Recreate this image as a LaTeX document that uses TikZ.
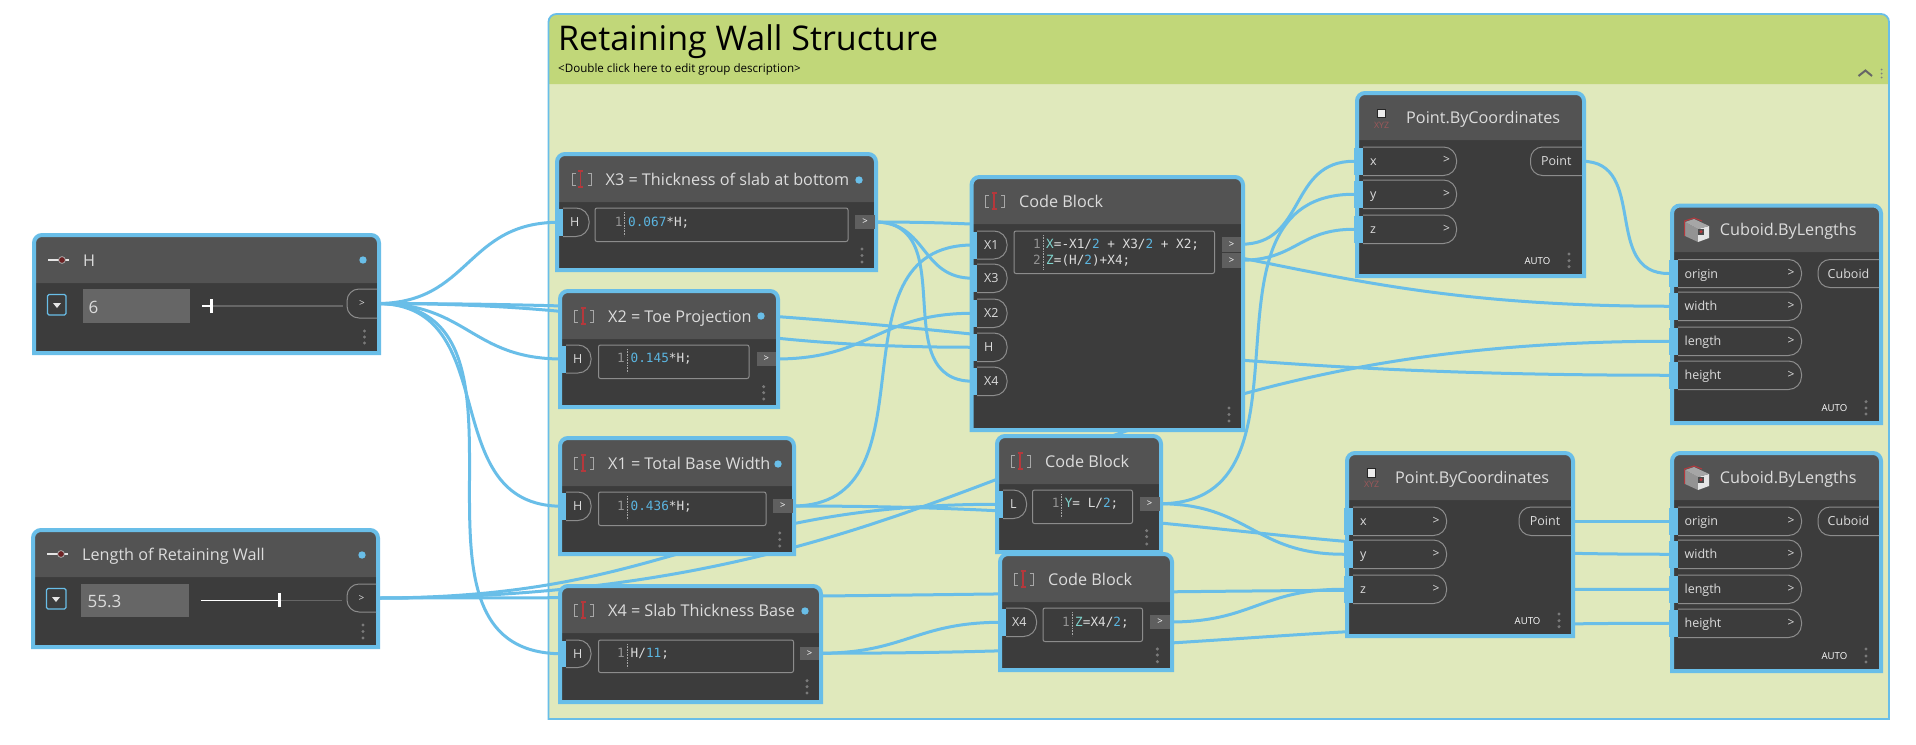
\documentclass[tikz,border=0pt]{standalone}
\usepackage{fontspec}
\setmainfont{Open Sans}
\setmonofont{DejaVu Sans Mono}
\usetikzlibrary{calc}
\pgfdeclarelayer{grouplayer}
\pgfdeclarelayer{wirelayer}
\pgfsetlayers{grouplayer,wirelayer,main}
\definecolor{wireblue}{HTML}{69BEE8}
\definecolor{bodydark}{HTML}{3C3C3C}
\definecolor{headdark}{HTML}{535353}
\definecolor{groupbody}{HTML}{E0E9BC}
\definecolor{grouphead}{HTML}{C1D779}
\definecolor{txtlight}{HTML}{DCDCDC}
\definecolor{pillline}{HTML}{8C8C8C}
\definecolor{outgray}{HTML}{5F5F5F}
\definecolor{boxgray}{HTML}{666666}
\definecolor{dotgray}{HTML}{7A7A7A}
\definecolor{cnum}{HTML}{5BB5E0}
\definecolor{cvar}{HTML}{7FD3CC}
\definecolor{redmark}{HTML}{B5383C}
\definecolor{bracketgray}{HTML}{A8A8A8}
\tikzset{
  wire/.style={draw=wireblue,line width=3pt,line cap=round},
  shell/.style={inner sep=0pt,outer sep=0pt,draw=none,fill=none},
  titletext/.style={inner sep=0pt,anchor=mid west,text=txtlight,yshift=-4pt,font=\fontsize{16.2}{19}\selectfont},
  portlabel/.style={inner sep=0pt,text=txtlight,yshift=-2pt,font=\fontsize{12.5}{15}\selectfont},
  arrowlabel/.style={inner sep=0pt,text=txtlight,font=\fontsize{12}{14}\selectfont},
  pill/.style={draw=pillline,line width=1pt},
  bar/.style={fill=wireblue,draw=none,inner sep=0pt,outer sep=0pt},
  outrect/.style={fill=outgray,draw=none,inner sep=0pt,outer sep=0pt,text=white,font=\fontsize{9.5}{11}\selectfont},
  outport/.style={inner sep=0pt,outer sep=0pt,text=txtlight},
  codebox/.style={draw=pillline,line width=1pt,rounded corners=2pt,inner sep=0pt,outer sep=0pt},
  codetext/.style={inner sep=0pt,anchor=mid west,text=txtlight,font=\ttfamily\fontsize{12.7}{15}\selectfont},
  linenum/.style={inner sep=0pt,anchor=mid,text=gray!85,font=\ttfamily\fontsize{12.7}{15}\selectfont},
  autotext/.style={inner sep=0pt,anchor=mid,text=white,font=\fontsize{9.6}{11}\selectfont},
  valuebox/.style={fill=boxgray,draw=none,inner sep=0pt,outer sep=0pt,text=txtlight},
  valuetext/.style={inner sep=0pt,anchor=mid west,text=txtlight,yshift=-5pt,font=\fontsize{17}{20}\selectfont},
}
% name x0 y0 x1 y1 yheader
\newcommand\dnode[6]{%
  \fill[bodydark,rounded corners=8pt] (#2+2,#5-2) -- (#2+2,#3+2) -- (#4-2,#3+2) [sharp corners] -- (#4-2,#5-2) -- cycle;
  \fill[headdark,rounded corners=8pt] (#2+2,#6) -- (#2+2,#3+2) -- (#4-2,#3+2) [sharp corners] -- (#4-2,#6) -- cycle;
  \draw[wireblue,line width=4pt,rounded corners=8pt] (#2+2,#5-2) -- (#2+2,#3+2) -- (#4-2,#3+2) [sharp corners] -- (#4-2,#5-2) -- cycle;
  \node[shell,minimum width={#4-#2},minimum height={#5-#3}] (#1) at ({(#2+#4)/2},{(#3+#5)/2}) {};
}
% three grip dots: x y1 y2 y3
\newcommand\grip[4]{\fill[dotgray] (#1,#2) circle (1.7pt) (#1,#3) circle (1.7pt) (#1,#4) circle (1.7pt);}
% status dot
\newcommand\stat[2]{\fill[wireblue] (#1,#2) circle (3.7pt);}
% code icon: x of bracket start, y centre
\newcommand\cbicon[2]{%
  \draw[bracketgray,line width=.9pt] (#1+3.5,#2-6) -- (#1,#2-6) -- (#1,#2+6) -- (#1+3.5,#2+6);
  \draw[bracketgray,line width=.9pt] (#1+15.5,#2-6) -- (#1+19,#2-6) -- (#1+19,#2+6) -- (#1+15.5,#2+6);
  \draw[redmark,line width=1.2pt] (#1+6,#2-8) -- (#1+11,#2-8) (#1+8.5,#2-8) -- (#1+8.5,#2+8) (#1+6,#2+8) -- (#1+11,#2+8);
}
% slider icon: x y (centre of the knob)
\newcommand\slicon[2]{%
  \draw[white!90!black,line width=1.6pt] (#1-14,#2) -- (#1+7,#2);
  \fill[redmark!60!black] (#1,#2) circle (3.2pt);
  \draw[white!70!black,line width=.7pt] (#1,#2) circle (3.4pt);
}
% point icon: x y of the square
\newcommand\pticon[3]{%
  \fill[white!92!black] (#1-3.7,#2-4.2) rectangle (#1+3.7,#2+4.2);
  \draw[black!85,line width=.8pt] (#1-3.7,#2-4.2) rectangle (#1+3.7,#2+4.2);
  \node[inner sep=0pt,anchor=mid,text=redmark!55!gray,font=\fontsize{8.8}{10}\selectfont] (#3) at (#1,#2+12) {XYZ};
}
% cube icon: centre
\newcommand\cubeicon[2]{%
  \fill[gray!85] (#1-12,#2-9) -- (#1+1,#2-2) -- (#1+1,#2+11) -- (#1-12,#2+5) -- cycle;
  \fill[white!90!black] (#1+1,#2-2) -- (#1+12,#2-5) -- (#1+12,#2+7) -- (#1+1,#2+11) -- cycle;
  \fill[gray!70] (#1-12,#2-9) -- (#1-3,#2-12) -- (#1+12,#2-5) -- (#1+1,#2-2) -- cycle;
  \draw[redmark,line width=1pt] (#1-12.5,#2+5) -- (#1-12.5,#2-10) -- (#1-3,#2-13) -- (#1+5,#2-10);
  \fill[black!70] (#1+1,#2-2.3) rectangle (#1+7,#2+3.7);
  \fill[redmark] (#1+4,#2+.7) circle (1.7pt);
}
% input port: name x0 y0 x1 y1 barL barR label labelx
\newcommand\inport[9]{%
  \draw[pill,rounded corners=13pt] (#7,#3) -- (#4,#3) -- (#4,#5) -- (#7,#5);
  \node[bar,minimum width={#7-#6},minimum height={#5-#3-1}] (#1) at ({(#6+#7)/2},{(#3+#5)/2}) {};
  \node[portlabel,anchor=mid west] (#1-l) at (#9,{(#3+#5)/2}) {#8};
}
\newcommand\inarrow[3]{\node[arrowlabel,anchor=mid] (#1-a) at (#2,#3) {>};}
% out pill: name x0 y0 x1 y1 text
\newcommand\outpill[6]{%
  \draw[pill,rounded corners=12pt] (#4,#3) -- (#2,#3) -- (#2,#5) -- (#4,#5);
  \node[outport,minimum width={#4-#2},minimum height={#5-#3},font=\fontsize{12.5}{15}\selectfont] (#1) at ({(#2+#4)/2},{(#3+#5)/2}) {#6};
}
% out rect: name x0 y0 x1 y1
\newcommand\outr[5]{\node[outrect,minimum width={#4-#2},minimum height={#5-#3}] (#1) at ({(#2+#4)/2},{(#3+#5)/2}) {>};}
% code box: name x0 y0 x1 y1 sepx sepy0 sepy1
\newcommand\cbox[8]{%
  \node[codebox,minimum width={#4-#2},minimum height={#5-#3}] (#1) at ({(#2+#4)/2},{(#3+#5)/2}) {};
  \draw[gray!70,line width=.6pt,densely dotted] (#6,#7) -- (#6,#8);
}
% bezier wire in the style of the reference: handle length grows with the distance
\newcommand\wire[2]{\draw[wire] let \p1=(#1),\p2=(#2),\n1={0.47*veclen(\x2-\x1,\y2-\y1)} in (\p1) .. controls (\x1+\n1,\y1) and (\x2-\n1,\y2) .. (\p2);}
\begin{document}
\begin{tikzpicture}[x=1pt,y=-1pt]
\useasboundingbox (0,0) rectangle (1916,744);

% ---------- group
\begin{pgfonlayer}{grouplayer}
\fill[white] (0,0) rectangle (1916,744);
\fill[groupbody,rounded corners=8pt] (548.5,719) -- (548.5,14) -- (1889,14) [sharp corners] -- (1889,719) -- cycle;
\fill[grouphead,rounded corners=8pt] (548.5,84) -- (548.5,14) -- (1889,14) [sharp corners] -- (1889,84) -- cycle;
\draw[wireblue,line width=1.8pt,rounded corners=8pt] (548.5,719) -- (548.5,14) -- (1889,14) [sharp corners] -- (1889,719) -- cycle;
\end{pgfonlayer}
\node[shell,minimum width=1341pt,minimum height=705pt] (grp) at (1218.75,366.5) {};
\node[inner sep=0pt,anchor=mid west,text=black,font=\fontsize{34}{40}\selectfont] (grptitle) at (558,48) {Retaining Wall Structure};
\node[inner sep=0pt,anchor=mid west,text=black,font=\fontsize{11.6}{14}\selectfont] (grpdesc) at (558,69.5) {<Double click here to edit group description>};
\draw[gray!80!black,line width=2pt] (1858.5,76) -- (1865.4,70.5) -- (1872,76);
\fill[gray] (1881.5,69.5) circle (1pt) (1881.5,73.5) circle (1pt) (1881.5,77.5) circle (1pt);

% ---------- slider H
\dnode{h}{32}{233}{381}{355}{283}
\slicon{62}{260}
\node[titletext] (h-t) at (83,260) {H};
\stat{363}{260}
\draw[wireblue,line width=1.2pt,rounded corners=1.5pt] (47.5,294.5) rectangle (66,315);
\fill[white!90!black] (53,303) -- (61,303) -- (57,308) -- cycle;
\node[valuebox,minimum width=107pt,minimum height=33.5pt,anchor=west] (h-v) at (82.5,306) {};
\node[valuetext] (h-vt) at (88.5,306) {6};
\draw[gray!80!black,line width=2pt] (211,306) -- (343,306);
\draw[white,line width=2pt] (202,306) -- (211,306);
\draw[white,line width=3pt] (211.5,299) -- (211.5,313);
\outpill{hOut}{347}{289}{377}{318}{\fontsize{10}{12}\selectfont >}
\grip{364.5}{331}{337}{343}

% ---------- slider Length
\dnode{len}{31}{528}{380}{649}{577}
\slicon{61}{554}
\node[titletext] (len-t) at (82,554) {Length of Retaining Wall};
\stat{362}{555}
\draw[wireblue,line width=1.2pt,rounded corners=1.5pt] (46.5,588.5) rectangle (66,609);
\fill[white!90!black] (52,597) -- (60,597) -- (56,602) -- cycle;
\node[valuebox,minimum width=107.5pt,minimum height=33pt,anchor=west] (len-v) at (81,600.5) {};
\node[valuetext] (len-vt) at (87.5,600) {55.3};
\draw[gray!80!black,line width=.8pt] (279,600) -- (342,600);
\draw[white,line width=1pt] (201,600) -- (279,600);
\draw[white,line width=3pt] (279,593) -- (279,607);
\outpill{lenOut}{347}{584}{376}{612}{\fontsize{10}{12}\selectfont >}
\grip{363}{625}{631.5}{638}

% ---------- X3
\dnode{x3}{555}{152}{878}{272}{202}
\cbicon{572}{179}
\node[titletext] (x3-t) at (605.5,179) {X3 = Thickness of slab at bottom};
\stat{859}{180}
\inport{x3In}{559}{208}{589}{236.5}{559}{563}{H}{570}
\cbox{x3c}{595}{208}{848}{241.5}{624.5}{212}{236}
\node[linenum] (x3n) at (618.6,224) {1};
\node[codetext] (x3k) at (628,224) {\textcolor{cnum}{0.067}*H;};
\outr{x3Out}{855}{215}{875}{229}
\grip{862}{249}{255.5}{262}

% ---------- X2
\dnode{x2}{558}{289}{780}{409}{339}
\cbicon{574.5}{316}
\node[titletext] (x2-t) at (608,316) {X2 = Toe Projection};
\stat{761}{316}
\inport{x2In}{562}{345}{591}{373}{562}{566}{H}{573}
\cbox{x2c}{598.5}{345}{749}{378.5}{627}{349}{373}
\node[linenum] (x2n) at (621,360) {1};
\node[codetext] (x2k) at (630.5,360) {\textcolor{cnum}{0.145}*H;};
\outr{x2Out}{756.5}{352}{776}{366}
\grip{763.7}{386.7}{392.7}{399}

% ---------- X1
\dnode{x1}{558}{436}{796}{556}{486}
\cbicon{574.5}{463}
\node[titletext] (x1-t) at (608,463) {X1 = Total Base Width};
\stat{778}{464}
\inport{x1In}{562}{492}{591}{520.5}{562}{566}{H}{573}
\cbox{x1c}{598.5}{492}{766}{525.5}{627}{496}{520}
\node[linenum] (x1n) at (621,508) {1};
\node[codetext] (x1k) at (630.5,508) {\textcolor{cnum}{0.436}*H;};
\outr{x1Out}{773}{499}{792.5}{513}
\grip{779.7}{533}{539.5}{546}

% ---------- X4
\dnode{x4}{558}{584}{823}{704}{633}
\cbicon{574.5}{610}
\node[titletext] (x4-t) at (608,610) {X4 = Slab Thickness Base};
\stat{805}{611}
\inport{x4In}{562}{640}{591}{667.5}{562}{566}{H}{573}
\cbox{x4c}{598.5}{640}{793.5}{672.5}{627}{644}{668}
\node[linenum] (x4n) at (621,655) {1};
\node[codetext] (x4k) at (630.5,655) {H/\textcolor{cnum}{11};};
\outr{x4Out}{800}{646.5}{819}{660}
\grip{807}{680.7}{686.7}{693}

% ---------- main code block
\dnode{cb}{969.5}{175}{1245}{432}{224}
\cbicon{985.5}{201}
\node[titletext] (cb-t) at (1019,201) {Code Block};
\inport{cbX1}{973}{231}{1007}{259}{973}{977}{X1}{984}
\inport{cbX3}{973}{264}{1007}{292.5}{973}{977}{X3}{984}
\inport{cbX2}{973}{299}{1007}{327.5}{973}{977}{X2}{984}
\inport{cbH}{973}{333}{1007}{361.5}{973}{977}{H}{984}
\inport{cbX4}{973}{367}{1007}{395.5}{973}{977}{X4}{984}
\cbox{cbc}{1014}{231}{1214.5}{273.5}{1043}{235}{269}
\node[linenum] (cbn1) at (1037,245.7) {1};
\node[linenum] (cbn2) at (1037,262) {2};
\node[codetext] (cbk1) at (1046,246) {\textcolor{cvar}{X}=-X1/\textcolor{cnum}{2} + X3/\textcolor{cnum}{2} + X2;};
\node[codetext] (cbk2) at (1046,262.3) {\textcolor{cvar}{Z}=(H/\textcolor{cnum}{2})+X4;};
\outr{cbOut1}{1222}{237}{1241}{251.5}
\outr{cbOut2}{1222}{253}{1241}{267.5}
\grip{1229}{408}{414.5}{421}

% ---------- code block L
\dnode{cl}{995}{434}{1163}{554}{484}
\cbicon{1011.5}{461}
\node[titletext] (cl-t) at (1045,461) {Code Block};
\inport{clL}{999}{490}{1026.5}{518.5}{999}{1003}{L}{1010}
\cbox{clc}{1032.5}{490}{1132.5}{523.5}{1061.5}{494}{518}
\node[linenum] (cln) at (1055.6,505) {1};
\node[codetext] (clk) at (1064.6,505) {\textcolor{cvar}{Y}= L/\textcolor{cnum}{2};};
\outr{clOut}{1139.5}{497}{1159.5}{510.5}
\grip{1146.7}{530.7}{536.7}{544}

% ---------- code block Z
\dnode{cz}{998}{552}{1174}{672}{602}
\cbicon{1014.5}{579}
\node[titletext] (cz-t) at (1048,579) {Code Block};
\inport{czX4}{1002}{608}{1036.5}{636.5}{1002}{1006}{X4}{1012}
\cbox{czc}{1043}{608}{1142.5}{641.5}{1072}{612}{636}
\node[linenum] (czn) at (1066,624) {1};
\node[codetext] (czk) at (1075,624) {\textcolor{cvar}{Z}=X4/\textcolor{cnum}{2};};
\outr{czOut}{1150}{615}{1170}{629}
\grip{1157.4}{649}{655}{661.7}

% ---------- Point top
\dnode{pa}{1355}{91}{1586}{278}{140}
\pticon{1381.5}{113.5}{pa-i}
\node[titletext] (pa-t) at (1406,117.3) {Point.ByCoordinates};
\inport{paX}{1354}{147}{1456.5}{175.5}{1354}{1363}{x}{1370}\inarrow{paX}{1446.5}{161}
\inport{paY}{1354}{180}{1456.5}{208.5}{1354}{1363}{y}{1370}\inarrow{paY}{1446.5}{194.5}
\inport{paZ}{1354}{215}{1456.5}{243.5}{1354}{1363}{z}{1370}\inarrow{paZ}{1446.5}{229.5}
\outpill{paOut}{1530.5}{147}{1582}{175.5}{Point}
\node[autotext] (pa-auto) at (1537.4,261.7) {AUTO};
\grip{1569}{254}{260.7}{266.7}

% ---------- Point bottom
\dnode{pb}{1345}{451}{1575}{638}{500}
\pticon{1371.5}{473}{pb-i}
\node[titletext] (pb-t) at (1395,477) {Point.ByCoordinates};
\inport{pbX}{1343.5}{507}{1446.5}{535.5}{1343.5}{1353}{x}{1360}\inarrow{pbX}{1436}{521.5}
\inport{pbY}{1343.5}{540}{1446.5}{568.5}{1343.5}{1353}{y}{1360}\inarrow{pbY}{1436}{554.5}
\inport{pbZ}{1343.5}{575}{1446.5}{603.5}{1343.5}{1353}{z}{1360}\inarrow{pbZ}{1436}{589.5}
\outpill{pbOut}{1519}{507}{1571}{535.5}{Point}
\node[autotext] (pb-auto) at (1527.5,621.7) {AUTO};
\grip{1559}{614}{620.7}{626.7}

% ---------- Cuboid top
\dnode{ca}{1670}{203.5}{1883}{425}{252}
\cubeicon{1697}{231}
\node[titletext] (ca-t) at (1719.7,229.3) {Cuboid.ByLengths};
\inport{caO}{1668.5}{259.5}{1801.5}{287.5}{1668.5}{1678}{origin}{1684.4}\inarrow{caO}{1791}{273.5}
\inport{caW}{1668.5}{292}{1801.5}{320.5}{1668.5}{1678}{width}{1684.4}\inarrow{caW}{1791}{306.5}
\inport{caL}{1668.5}{327}{1801.5}{355.5}{1668.5}{1678}{length}{1684.4}\inarrow{caL}{1791}{341.5}
\inport{caH}{1668.5}{361}{1801.5}{389.5}{1668.5}{1678}{height}{1684.4}\inarrow{caH}{1791}{375.5}
\outpill{caOut}{1818}{259.5}{1879}{287.5}{Cuboid}
\node[autotext] (ca-auto) at (1834.4,408.7) {AUTO};
\grip{1866}{401.7}{408}{414}

% ---------- Cuboid bottom
\dnode{cc}{1670}{451}{1883}{673}{500}
\cubeicon{1697}{479}
\node[titletext] (cc-t) at (1719.7,477) {Cuboid.ByLengths};
\inport{ccO}{1668.5}{507}{1801.5}{535.5}{1668.5}{1678}{origin}{1684.4}\inarrow{ccO}{1791}{521.5}
\inport{ccW}{1668.5}{540}{1801.5}{568.5}{1668.5}{1678}{width}{1684.4}\inarrow{ccW}{1791}{554.5}
\inport{ccL}{1668.5}{575}{1801.5}{603.5}{1668.5}{1678}{length}{1684.4}\inarrow{ccL}{1791}{589.5}
\inport{ccH}{1668.5}{609}{1801.5}{637.5}{1668.5}{1678}{height}{1684.4}\inarrow{ccH}{1791}{623.5}
\outpill{ccOut}{1818}{507}{1879}{535.5}{Cuboid}
\node[autotext] (cc-auto) at (1834.4,656.7) {AUTO};
\grip{1866}{649}{656}{662}

% ---------- wires
\begin{pgfonlayer}{wirelayer}
\wire{hOut.east}{x3In.west}
\wire{hOut.east}{x2In.west}
\wire{hOut.east}{x1In.west}
\wire{hOut.east}{x4In.west}
\wire{hOut.east}{cbH.west}
\wire{hOut.east}{caH.west}
\wire{lenOut.east}{clL.west}
\wire{lenOut.east}{caL.west}
\wire{lenOut.east}{ccL.west}
\wire{x3Out.east}{cbX3.west}
\wire{x3Out.east}{cbX4.west}
\wire{x3Out.east}{caW.west}
\wire{x2Out.east}{cbX2.west}
\wire{x1Out.east}{cbX1.west}
\wire{x1Out.east}{ccW.west}
\wire{x4Out.east}{czX4.west}
\wire{x4Out.east}{ccH.west}
\wire{cbOut1.east}{paX.west}
\wire{cbOut2.east}{paZ.west}
\wire{clOut.east}{paY.west}
\wire{clOut.east}{pbY.west}
\wire{czOut.east}{pbZ.west}
\wire{paOut.east}{caO.west}
\wire{pbOut.east}{ccO.west}
\end{pgfonlayer}
\end{tikzpicture}
\end{document}
